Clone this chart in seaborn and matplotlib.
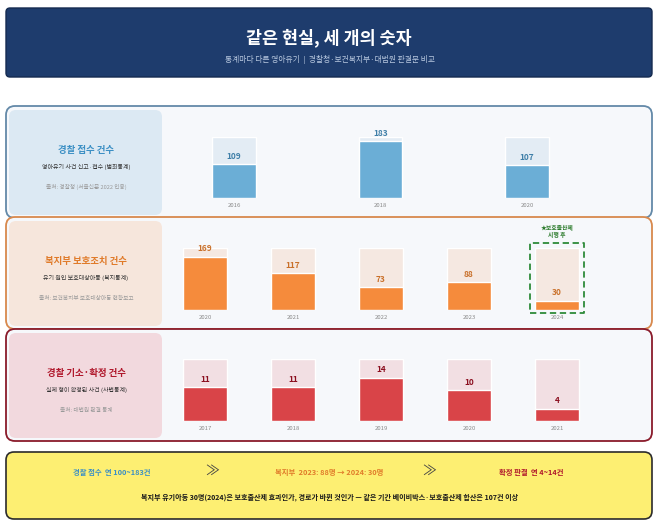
import matplotlib
matplotlib.use('Agg')
import matplotlib.pyplot as plt
import seaborn as sns
from matplotlib.patches import FancyBboxPatch, Rectangle

# data
police_years = ['2016', '2018', '2020']
police_counts = [109, 183, 107]
welfare_years = ['2020', '2021', '2022', '2023', '2024']
welfare_counts = [169, 117, 73, 88, 30]
court_years = ['2017', '2018', '2019', '2020', '2021']
court_counts = [11, 11, 14, 10, 4]

title = '같은 현실, 세 개의 숫자'
subtitle = '통계마다 다른 영아유기  |  경찰청·보건복지부·대법원 판결문 비교'
row_titles = ['경찰 접수 건수', '복지부 보호조치 건수', '경찰 기소·확정 건수']
row_subs = ['영아유기 사건 신고·접수 (범죄통계)', '유기 원인 보호대상아동 (복지통계)',
            '실제 형이 확정된 사건 (사법통계)']
row_sources = ['출처: 경찰청 (서울신문 2022 인용)', '출처: 보건복지부 보호대상아동 현황보고',
               '출처: 대법원 판결 통계']
footer_items = ['경찰 접수  연 100~183건', '복지부  2023: 88명 → 2024: 30명', '확정 판결  연 4~14건']
footer_note = ('복지부 유기아동 30명(2024)은 보호출산제 효과인가, 경로가 바뀐 것인가 — '
               '같은 기간 베이비박스·보호출산제 합산은 107건 이상')
mark_year = '2024'
mark_text = '★보호출산제\n시행 후'

sns.set_theme(style='white')
plt.rcParams['font.family'] = ['Noto Sans CJK KR', 'DejaVu Sans']

W, H = 658, 524
fig = plt.figure(figsize=(W / 100, H / 100), dpi=100)
bg = fig.add_axes([0, 0, 1, 1])
bg.set_xlim(0, W)
bg.set_ylim(H, 0)
bg.axis('off')

# header
bg.add_patch(FancyBboxPatch((6, 8), 646, 69, boxstyle='round,pad=0,rounding_size=4',
                            fc='#1e3c6d', ec='#142a50', lw=1))
bg.text(329, 38, title, ha='center', va='center', fontsize=12.5, fontweight='bold', color='white')
bg.text(330, 60, subtitle, ha='center', va='center', fontsize=5.6, color='#b9c9e0')

rows = [
    dict(years=police_years, counts=police_counts, top=106, ymax=196, width=0.30,
         border='#6389a8', panel='#dce9f3', tcol='#3b8fc4', bar='#6baed6', back='#e3ecf4',
         vcol='#3f7fa8', span=(137, 198), x0=234, x1=527),
    dict(years=welfare_years, counts=welfare_counts, top=217, ymax=196, width=0.5,
         border='#d8894d', panel='#f6e6dc', tcol='#e07b2a', bar='#f58b3c', back='#f5e8e1',
         vcol='#c9702a', span=(248, 310), x0=205, x1=557),
    dict(years=court_years, counts=court_counts, top=329, ymax=20, width=0.5,
         border='#8a1b2b', panel='#f2d9de', tcol='#b0182c', bar='#d94448', back='#f2dfe3',
         vcol='#8b0f1f', span=(359, 421), x0=205, x1=557),
]

for k, r in enumerate(rows):
    top = r['top']
    bg.add_patch(FancyBboxPatch((6, top), 646, 112, boxstyle='round,pad=0,rounding_size=9',
                                fc='#f6f8fb', ec=r['border'], lw=1.3))
    bg.add_patch(FancyBboxPatch((9, top + 4), 153, 105, boxstyle='round,pad=0,rounding_size=7',
                                fc=r['panel'], ec='none'))
    bg.text(86, top + 44, row_titles[k], ha='center', va='center', fontsize=6.8,
            fontweight='bold', color=r['tcol'])
    bg.text(86, top + 61, row_subs[k], ha='center', va='center', fontsize=4.3, color='#333333')
    bg.text(86, top + 81, row_sources[k], ha='center', va='center', fontsize=4.1, color='#9a9a9a')

    n = len(r['years'])
    step = (r['x1'] - r['x0']) / (n - 1)
    left = r['x0'] - step / 2
    right = r['x1'] + step / 2
    ytop, ybot = r['span']
    ax = fig.add_axes([left / W, 1 - ybot / H, (right - left) / W, (ybot - ytop) / H])
    ax.patch.set_alpha(0)
    sns.barplot(x=r['years'], y=[r['ymax']] * n, color=r['back'], width=r['width'],
                saturation=1, ax=ax)
    sns.barplot(x=r['years'], y=r['counts'], color=r['bar'], width=r['width'],
                saturation=1, ax=ax)
    ax.set_xlim(-0.5, n - 0.5)
    ax.set_ylim(0, r['ymax'])
    ax.set_yticks([])
    ax.set_xlabel('')
    ax.set_ylabel('')
    sns.despine(ax=ax, left=True, bottom=True)
    ax.set_xticks(range(n))
    ax.set_xticklabels(r['years'])
    ax.tick_params(axis='x', length=0, pad=3.5, labelsize=4.3, labelcolor='#8a8a8a')
    for i, v in enumerate(r['counts']):
        ax.annotate(str(v), xy=(i, v), xytext=(0, 5.5), textcoords='offset points',
                    ha='center', va='center', fontsize=6, fontweight='bold',
                    color=r['vcol'], annotation_clip=False)

    if r['years'] is welfare_years:
        j = r['years'].index(mark_year)
        ppu = (ybot - ytop) / r['ymax']
        ax.add_patch(Rectangle((j - 0.307, -3 / ppu), 0.614, 70 / ppu, fill=False,
                               ec='#2e8b3a', lw=1.3, ls=(0, (3.5, 2)), clip_on=False,
                               joinstyle='round'))
        ax.annotate(mark_text, xy=(j, r['ymax']), xytext=(0, 12), textcoords='offset points',
                    ha='center', va='center', fontsize=4.2, fontweight='bold',
                    color='#2a7a2a', linespacing=1.1, annotation_clip=False)

# footer
bg.add_patch(FancyBboxPatch((6, 452), 646, 67, boxstyle='round,pad=0,rounding_size=8',
                            fc='#fdef72', ec='#2b2b2b', lw=1.2))
fcols = ['#3b8fc4', '#e07b2a', '#b0182c']
fx = [112, 329, 531]
for t, c, x in zip(footer_items, fcols, fx):
    bg.text(x, 472, t, ha='center', va='center', fontsize=5.3, fontweight='bold', color=c)
for x in [212, 429]:
    bg.text(x, 471, '≫', ha='center', va='center', fontsize=10, color='#444444')
bg.text(330, 497, footer_note, ha='center', va='center', fontsize=5.1, fontweight='bold',
        color='#1a1a1a')

fig.savefig('out.png', dpi=100)
